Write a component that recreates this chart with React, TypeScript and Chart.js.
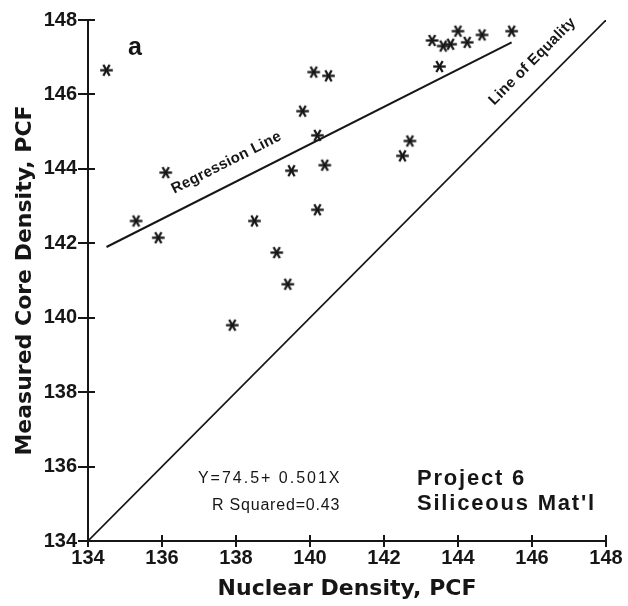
import { useEffect, useRef } from "react";
import { Chart, registerables } from "chart.js";

Chart.register(...registerables);

// Measured points (Nuclear density vs measured core density), PCF
const nuclearDensity = [
  134.5, 136.1, 135.3, 135.9, 140.1, 140.5, 139.8, 140.2, 139.5, 140.4, 140.2, 138.5, 139.1,
  139.4, 137.9, 142.7, 142.5, 143.3, 143.6, 143.8, 144.0, 144.25, 144.65, 145.45, 143.5,
];
const coreDensity = [
  146.65, 143.9, 142.6, 142.15, 146.6, 146.5, 145.55, 144.9, 143.95, 144.1, 142.9, 142.6, 141.75,
  140.9, 139.8, 144.75, 144.35, 147.45, 147.3, 147.35, 147.7, 147.4, 147.6, 147.7, 146.75,
];
// Regression line end points
const regressionX = [134.5, 145.45];
const regressionY = [141.9, 147.4];
// Line of equality end points
const equalityX = [134, 148];
const equalityY = [134, 148];
// Axis range / tick labels
const axisMin = 134;
const axisMax = 148;
const tickStep = 2;

const xTitle = "Nuclear Density, PCF";
const yTitle = "Measured Core Density, PCF";
const regressionLabel = "Regression Line";
const equalityLabel = "Line of Equality";
const panelLabel = "a";
const equationText = "Y=74.5+ 0.501X";
const rSquaredText = "R Squared=0.43";
const projectLines = ["Project 6", "Siliceous Mat'l"];

const INK = "#161616";

function makeStar(): HTMLCanvasElement {
  const c = document.createElement("canvas");
  c.width = 15;
  c.height = 15;
  const g = c.getContext("2d")!;
  g.strokeStyle = INK;
  g.lineWidth = 2.3;
  g.lineCap = "butt";
  const cx = 7.5;
  const cy = 7.5;
  const r = 6.3;
  [0, 60, 120].forEach((deg) => {
    const a = (deg * Math.PI) / 180;
    g.beginPath();
    g.moveTo(cx - r * Math.cos(a), cy - r * Math.sin(a));
    g.lineTo(cx + r * Math.cos(a), cy + r * Math.sin(a));
    g.stroke();
  });
  return c;
}

const annotations = {
  id: "annotations",
  afterDatasetsDraw(chart: any) {
    const { ctx } = chart;
    const x = chart.scales.x;
    const y = chart.scales.y;
    ctx.save();
    ctx.strokeStyle = INK;
    ctx.fillStyle = INK;
    ctx.lineWidth = 2;
    // inner halves of the crossing tick marks
    x.ticks.forEach((t: any) => {
      const px = Math.round(x.getPixelForValue(t.value));
      ctx.beginPath();
      ctx.moveTo(px, y.bottom);
      ctx.lineTo(px, y.bottom - 6);
      ctx.stroke();
    });
    y.ticks.forEach((t: any) => {
      const py = Math.round(y.getPixelForValue(t.value));
      ctx.beginPath();
      ctx.moveTo(x.left, py);
      ctx.lineTo(x.left + 7, py);
      ctx.stroke();
    });

    const put = (
      text: string,
      dx: number,
      dy: number,
      font: string,
      align: CanvasTextAlign,
      baseline: CanvasTextBaseline,
      spacing: string
    ) => {
      ctx.font = font;
      ctx.textAlign = align;
      ctx.textBaseline = baseline;
      (ctx as any).letterSpacing = spacing;
      ctx.fillText(text, x.getPixelForValue(dx), y.getPixelForValue(dy));
    };

    put(panelLabel, 135.27, 147.25, "bold 25px 'Liberation Sans'", "center", "middle", "0px");
    put(equationText, 136.97, 135.56, "16px 'Liberation Sans'", "left", "alphabetic", "2px");
    put(rSquaredText, 137.35, 134.83, "16px 'Liberation Sans'", "left", "alphabetic", "0.8px");
    put(projectLines[0], 142.89, 135.51, "bold 22px 'Liberation Sans'", "left", "alphabetic", "1.8px");
    put(projectLines[1], 142.89, 134.82, "bold 22px 'Liberation Sans'", "left", "alphabetic", "1.8px");

    const along = (
      text: string,
      xs: number[],
      ys: number[],
      ax: number,
      offset: number,
      font: string
    ) => {
      const p1x = x.getPixelForValue(xs[0]);
      const p1y = y.getPixelForValue(ys[0]);
      const p2x = x.getPixelForValue(xs[1]);
      const p2y = y.getPixelForValue(ys[1]);
      const ang = Math.atan2(p2y - p1y, p2x - p1x);
      const t = (ax - xs[0]) / (xs[1] - xs[0]);
      const px = p1x + t * (p2x - p1x) + offset * Math.sin(ang);
      const py = p1y + t * (p2y - p1y) - offset * Math.cos(ang);
      ctx.save();
      ctx.translate(px, py);
      ctx.rotate(ang);
      ctx.font = font;
      ctx.textAlign = "center";
      ctx.textBaseline = "middle";
      (ctx as any).letterSpacing = "0.3px";
      ctx.fillText(text, 0, 0);
      ctx.restore();
    };
    along(regressionLabel, regressionX, regressionY, 138.0, 21, "bold 15px 'Liberation Sans'");
    along(equalityLabel, equalityX, equalityY, 146.45, 23, "bold 15px 'Liberation Sans'");
    ctx.restore();
  },
};

export default function App() {
  const ref = useRef<HTMLCanvasElement | null>(null);

  useEffect(() => {
    if (!ref.current) return;
    const star = makeStar();
    const points = nuclearDensity.map((v, i) => ({ x: v, y: coreDensity[i] }));
    const reg = regressionX.map((v, i) => ({ x: v, y: regressionY[i] }));
    const eq = equalityX.map((v, i) => ({ x: v, y: equalityY[i] }));

    const tickFont = { family: "'Liberation Sans'", size: 20, weight: "bold" as const };
    const titleFont = { family: "'DejaVu Sans'", size: 22, weight: "bold" as const };

    const chart = new Chart(ref.current, {
      type: "scatter",
      data: {
        datasets: [
          {
            data: points,
            pointStyle: star as any,
            pointRadius: 7,
            showLine: false,
          },
          {
            type: "line",
            data: reg,
            borderColor: INK,
            borderWidth: 2,
            pointRadius: 0,
            showLine: true,
            fill: false,
          } as any,
          {
            type: "line",
            data: eq,
            borderColor: INK,
            borderWidth: 1.6,
            pointRadius: 0,
            showLine: true,
            fill: false,
          } as any,
        ],
      },
      options: {
        responsive: false,
        animation: false,
        devicePixelRatio: 1,
        layout: { padding: { left: 0, top: 20, right: 22, bottom: 0 } },
        plugins: {
          legend: { display: false },
          tooltip: { enabled: false },
          title: { display: false },
        },
        scales: {
          x: {
            type: "linear",
            min: axisMin,
            max: axisMax,
            ticks: { stepSize: tickStep, font: tickFont, color: INK, padding: -1, maxRotation: 0 },
            grid: { drawOnChartArea: false, drawTicks: true, tickLength: 6, color: INK, lineWidth: 2 },
            border: { display: true, color: INK, width: 2 },
            title: {
              display: true,
              text: xTitle,
              font: titleFont,
              color: INK,
              padding: { top: 0, bottom: 4 },
            },
            afterFit: (s: any) => {
              s.height = 65;
            },
          },
          y: {
            type: "linear",
            min: axisMin,
            max: axisMax,
            ticks: { stepSize: tickStep, font: tickFont, color: INK, padding: 1 },
            grid: { drawOnChartArea: false, drawTicks: true, tickLength: 10, color: INK, lineWidth: 2 },
            border: { display: true, color: INK, width: 2 },
            title: {
              display: true,
              text: yTitle,
              font: titleFont,
              color: INK,
              padding: { top: 12, bottom: 0 },
            },
            afterFit: (s: any) => {
              s.width = 88;
            },
          },
        },
      },
      plugins: [annotations],
    });
    return () => chart.destroy();
  }, []);

  return (
    <div style={{ position: "fixed", left: 0, top: 0, width: 628, height: 606, background: "#fff" }}>
      <canvas ref={ref} width={628} height={606} style={{ width: 628, height: 606, display: "block" }} />
    </div>
  );
}
